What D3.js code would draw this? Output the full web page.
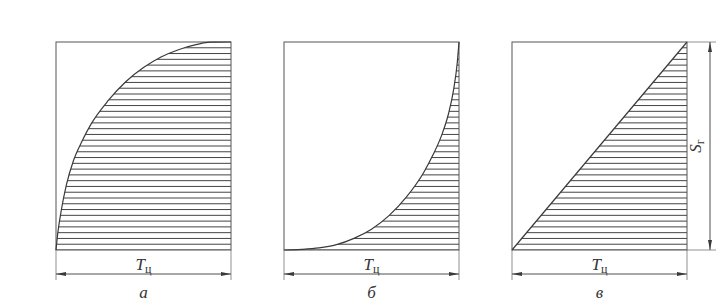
<!DOCTYPE html>
<html><head><meta charset="utf-8">
<script src="https://cdn.jsdelivr.net/npm/d3@7"></script>
<style>
html,body{margin:0;padding:0;background:#fff;}
svg{display:block;}
text{font-family:"Liberation Serif","DejaVu Serif",serif;fill:#333;}
</style></head>
<body>
<script>
// ---- data (fractions of cycle time T and of stroke S) ----
const panelLabels = ["а", "б", "в"];
const timeLabel = "T";
const timeSub = "ц";
const strokeLabel = "S";
const strokeSub = "г";

const curveA_t = [0, 0.01, 0.03, 0.06, 0.1, 0.15, 0.2, 0.3, 0.4, 0.5, 0.6, 0.7, 0.8, 0.88, 1];
const curveA_s = [0, 0.08, 0.19, 0.315, 0.43, 0.525, 0.605, 0.72, 0.81, 0.877, 0.928, 0.963, 0.987, 0.999, 1.0];

const curveB_t = [0, 0.1, 0.2, 0.3, 0.4, 0.5, 0.6, 0.7, 0.8, 0.85, 0.9, 0.94, 0.97, 0.99, 1];
const curveB_s = [0, 0.003, 0.01, 0.026, 0.056, 0.10, 0.165, 0.255, 0.375, 0.455, 0.55, 0.655, 0.775, 0.9, 1.0];

const curveC_t = [0, 1];
const curveC_s = [0, 1];

const curves = [
  {t: curveA_t, s: curveA_s},
  {t: curveB_t, s: curveB_s},
  {t: curveC_t, s: curveC_s}
];
const hatchCount = 36;

// ---- layout ----
const W = 726, H = 305;
const panelLeft = [56, 284, 512];
const panelW = 175, plotTop = 42, plotBottom = 250;
const ink = "#3a3a3a";

const svg = d3.select("body").append("svg").attr("width", W).attr("height", H);
const defs = svg.append("defs");
defs.append("marker").attr("id", "arr")
  .attr("viewBox", "0 0 10 4").attr("refX", 10).attr("refY", 2)
  .attr("markerWidth", 10).attr("markerHeight", 4)
  .attr("markerUnits", "userSpaceOnUse")
  .attr("orient", "auto-start-reverse")
  .append("path").attr("d", "M0,0 L10,2 L0,4 Z").attr("fill", ink);

const y = d3.scaleLinear().domain([0, 1]).range([plotBottom, plotTop]);

curves.forEach((c, i) => {
  const x = d3.scaleLinear().domain([0, 1]).range([panelLeft[i], panelLeft[i] + panelW]);
  const pts = c.t.map((t, k) => [t, c.s[k]]);
  const g = svg.append("g");
  const curveType = c.t.length > 2 ? d3.curveMonotoneX : d3.curveLinear;

  // clip region under curve
  const area = d3.area().x(d => x(d[0])).y0(y(0)).y1(d => y(d[1])).curve(curveType);
  defs.append("clipPath").attr("id", "clip" + i)
    .append("path").attr("d", area(pts));

  // hatching
  const levels = d3.range(hatchCount).map(k => k / hatchCount);
  g.append("g").attr("clip-path", `url(#clip${i})`)
    .selectAll("line").data(levels).join("line")
    .attr("x1", x(0)).attr("x2", x(1))
    .attr("y1", d => y(d)).attr("y2", d => y(d))
    .attr("stroke", "#444").attr("stroke-width", 1);

  // frame
  g.append("rect").attr("x", x(0)).attr("y", y(1))
    .attr("width", x(1) - x(0)).attr("height", y(0) - y(1))
    .attr("fill", "none").attr("stroke", "#555").attr("stroke-width", 1);

  // curve
  const line = d3.line().x(d => x(d[0])).y(d => y(d[1])).curve(curveType);
  g.append("path").attr("d", line(pts))
    .attr("fill", "none").attr("stroke", ink).attr("stroke-width", 1.2);

  // time dimension
  const dimY = 274;
  [0, 1].forEach(v => g.append("line")
    .attr("x1", x(v)).attr("x2", x(v)).attr("y1", y(0)).attr("y2", dimY + 6)
    .attr("stroke", "#777").attr("stroke-width", 0.8));
  g.append("line").attr("x1", x(0)).attr("x2", x(1)).attr("y1", dimY).attr("y2", dimY)
    .attr("stroke", ink).attr("stroke-width", 0.9)
    .attr("marker-start", "url(#arr)").attr("marker-end", "url(#arr)");
  const tl = g.append("text").attr("x", x(0.5)).attr("y", dimY - 4)
    .attr("text-anchor", "middle").attr("font-size", 17).attr("font-style", "italic");
  tl.append("tspan").text(timeLabel);
  tl.append("tspan").attr("font-size", 12).attr("font-style", "normal").attr("dy", 3).text(timeSub);

  g.append("text").attr("x", x(0.5)).attr("y", 298)
    .attr("text-anchor", "middle").attr("font-size", 17).attr("font-style", "italic")
    .text(panelLabels[i]);

  // stroke dimension on last panel
  if (i === 2) {
    const dimX = 710;
    [0, 1].forEach(v => g.append("line")
      .attr("x1", x(1)).attr("x2", dimX + 6).attr("y1", y(v)).attr("y2", y(v))
      .attr("stroke", "#777").attr("stroke-width", 0.8));
    g.append("line").attr("x1", dimX).attr("x2", dimX).attr("y1", y(0)).attr("y2", y(1))
      .attr("stroke", ink).attr("stroke-width", 0.9)
      .attr("marker-start", "url(#arr)").attr("marker-end", "url(#arr)");
    const sl = g.append("text")
      .attr("transform", `translate(${dimX - 9},${y(0.5)}) rotate(-90)`)
      .attr("text-anchor", "middle").attr("font-size", 17).attr("font-style", "italic");
    sl.append("tspan").text(strokeLabel);
    sl.append("tspan").attr("font-size", 12).attr("font-style", "normal").attr("dy", 3).text(strokeSub);
  }
});
</script>
</body></html>
